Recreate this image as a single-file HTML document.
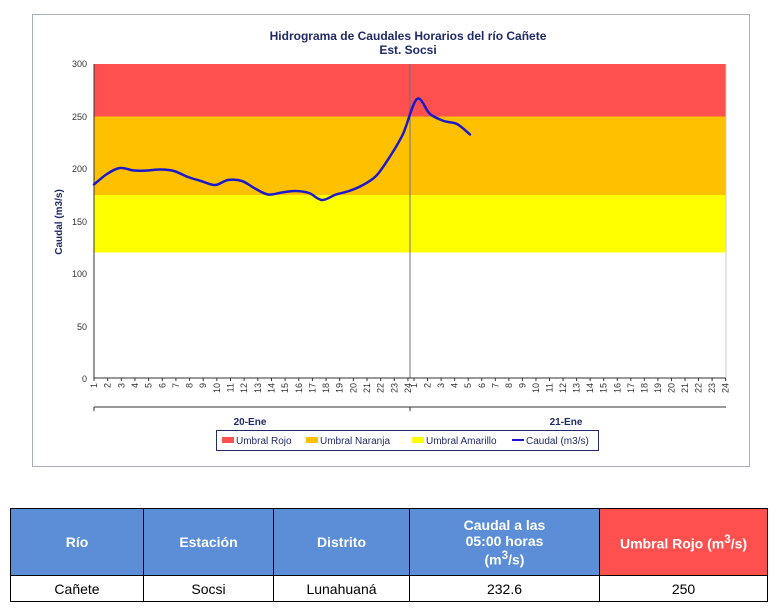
<!DOCTYPE html>
<html><head><meta charset="utf-8"><style>
body{margin:0;background:#fff;width:784px;height:616px;position:relative;font-family:"Liberation Sans",sans-serif;overflow:hidden}
table{position:absolute;left:10px;top:508px;border-collapse:collapse;font-family:"Liberation Sans",sans-serif}
td{border:1px solid #000;text-align:center;font-size:14px;padding:0}
.h td{background:#5b8ed6;color:#fff;font-weight:bold;height:66px}
.h td.r{background:#ff5050}
.d td{height:25px;color:#000}
</style></head><body>
<svg width="784" height="480" style="position:absolute;left:0;top:0" font-family="Liberation Sans, sans-serif">
<rect x="32.5" y="14.5" width="717" height="452" fill="#fff" stroke="#a8b0c0"/>
<text x="408" y="40" text-anchor="middle" font-size="12" font-weight="bold" fill="#1f2a66">Hidrograma de Caudales Horarios del río Cañete</text>
<text x="408" y="54" text-anchor="middle" font-size="12" font-weight="bold" fill="#1f2a66">Est. Socsi</text>
<rect x="94" y="64" width="632" height="52.5" fill="#ff5050"/>
<rect x="94" y="116.5" width="632" height="78.5" fill="#ffc000"/>
<rect x="94" y="195" width="632" height="57.5" fill="#ffff00"/>
<line x1="410" y1="64" x2="410" y2="378" stroke="#707080" stroke-width="1"/>
<line x1="94" y1="64" x2="94" y2="378" stroke="#333"/>
<line x1="94" y1="378" x2="726" y2="378" stroke="#333"/>
<line x1="726" y1="378" x2="726" y2="64" stroke="#ccc"/>
<g font-size="9" fill="#333" text-anchor="end">
<text x="87" y="67">300</text><text x="87" y="120">250</text><text x="87" y="172">200</text><text x="87" y="225">150</text><text x="87" y="277">100</text><text x="87" y="330">50</text><text x="87" y="382">0</text>
</g>
<text transform="translate(62,222) rotate(-90)" text-anchor="middle" font-size="10" font-weight="bold" fill="#1f2a66">Caudal  (m3/s)</text>
<path id="cv" fill="none" stroke="#1a1acc" stroke-width="2.5" stroke-linejoin="round" stroke-linecap="round" d=""/>
<g font-size="9" fill="#333" id="xl"></g>
<line x1="94" y1="407" x2="726" y2="407" stroke="#333"/>
<line x1="94" y1="407" x2="94" y2="411" stroke="#333"/>
<line x1="410" y1="407" x2="410" y2="411" stroke="#333"/>
<text x="250" y="425" text-anchor="middle" font-size="10" font-weight="bold" fill="#1f2a66">20-Ene</text>
<text x="566" y="425" text-anchor="middle" font-size="10" font-weight="bold" fill="#1f2a66">21-Ene</text>
<rect x="216.5" y="430.5" width="382" height="20" fill="#fff" stroke="#1f2a66"/>
<rect x="222" y="437" width="12" height="6" fill="#ff5050"/><text x="236" y="444" font-size="10" fill="#1f2a66">Umbral Rojo</text>
<rect x="306" y="437" width="12" height="6" fill="#ffc000"/><text x="320" y="444" font-size="10" fill="#1f2a66">Umbral Naranja</text>
<rect x="412" y="437" width="12" height="6" fill="#ffff00"/><text x="426" y="444" font-size="10" fill="#1f2a66">Umbral Amarillo</text>
<line x1="512" y1="440" x2="524" y2="440" stroke="#1a1acc" stroke-width="2"/><text x="526" y="444" font-size="10" fill="#1f2a66">Caudal (m3/s)</text>
</svg>
<script>
var g=document.getElementById('xl'),s='';
for(var i=0;i<48;i++){var x=(i<24?94+i*13.65:414+(i-24)*13.55);var n=(i%24)+1;
s+='<line x1="'+x+'" y1="378" x2="'+x+'" y2="381" stroke="#333"/>';
s+='<text transform="translate('+(x+3)+',383) rotate(-90)" text-anchor="end">'+n+'</text>';}
g.innerHTML=s;
var P=[[94,184.5],[107,174],[120,168],[134,170.5],[147,170.5],[161,169.5],[174,171],[188,177],[201,181],[215,185],[228,180],[242,181],[255,188.5],[268,194.5],[282,192.5],[295,191],[309,193],[322,200],[336,194.5],[349,191],[362,185.5],[376,176],[389,158],[403,134],[417,99],[430,114],[444,121],[457,124],[470,134.5]];
var d='M'+P[0][0]+','+P[0][1];
for(var k=0;k<P.length-1;k++){var p0=P[k-1]||P[k],p1=P[k],p2=P[k+1],p3=P[k+2]||P[k+1];
var c1=[p1[0]+(p2[0]-p0[0])/6,p1[1]+(p2[1]-p0[1])/6],c2=[p2[0]-(p3[0]-p1[0])/6,p2[1]-(p3[1]-p1[1])/6];
d+=' C'+c1[0]+','+c1[1]+' '+c2[0]+','+c2[1]+' '+p2[0]+','+p2[1];}
document.getElementById('cv').setAttribute('d',d);
</script>
<table>
<tr class="h"><td style="width:132px">Río</td><td style="width:129px">Estación</td><td style="width:135px">Distrito</td><td style="width:189px">Caudal a las<br>05:00 horas<br>(m<sup>3</sup>/s)</td><td class="r" style="width:167px">Umbral Rojo (m<sup>3</sup>/s)</td></tr>
<tr class="d"><td>Cañete</td><td>Socsi</td><td>Lunahuaná</td><td>232.6</td><td>250</td></tr>
</table>
</body></html>
